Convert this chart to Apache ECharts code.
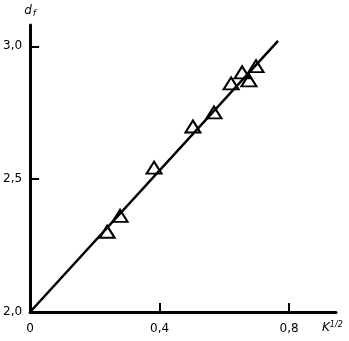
<!DOCTYPE html>
<html><head><meta charset="utf-8">
<script src="https://cdn.jsdelivr.net/npm/echarts@6/dist/echarts.min.js"></script>
<style>html,body{margin:0;padding:0;background:#fff}#c{width:349px;height:341px}</style>
</head><body><div id="c"></div>
<script>
const pointsX = [0.238, 0.278, 0.383, 0.503, 0.568, 0.621, 0.655, 0.676, 0.698];
const pointsY = [2.302, 2.362, 2.543, 2.698, 2.751, 2.860, 2.902, 2.872, 2.925];
const fitX = [0, 0.766];
const fitY = [2.0, 3.02];
const xTicks = [0, 0.4, 0.8];
const yTicks = [2.0, 2.5, 3.0];

const fmt = v => {
  if (Math.abs(v) < 1e-9) return '0';
  return v.toFixed(1).replace('.', ',');
};
const font = 'DejaVu Sans';
const chart = echarts.init(document.getElementById('c'));
chart.setOption({
  animation: false,
  backgroundColor: '#fff',
  grid: {left: 30, right: 13, top: 25, bottom: 29},
  xAxis: {
    type: 'value', min: 0, max: 0.945,
    axisLine: {lineStyle: {color: '#000', width: 3}},
    axisTick: {show: true, inside: true, length: 9, lineStyle: {color: '#000', width: 2}, customValues: [0.4, 0.8]},
    axisLabel: {customValues: xTicks, formatter: fmt, color: '#000', fontFamily: font, fontSize: 12, margin: 11},
    splitLine: {show: false},
    name: '{k|K}{s|1/2}', nameLocation: 'end', nameGap: -14,
    nameTextStyle: {
      padding: [32, 0, 0, 0],
      rich: {
        k: {fontFamily: font, fontStyle: 'italic', fontSize: 12, color: '#000'},
        s: {fontFamily: font, fontStyle: 'italic', fontSize: 8, color: '#000', verticalAlign: 'top', padding: [0, 0, 6, 0]}
      }
    }
  },
  yAxis: {
    type: 'value', min: 2.0, max: 3.08,
    axisLine: {lineStyle: {color: '#000', width: 3}},
    axisTick: {show: true, inside: true, length: 9, lineStyle: {color: '#000', width: 2}, customValues: [2.5, 3.0]},
    axisLabel: {customValues: yTicks, formatter: fmt, color: '#000', fontFamily: font, fontSize: 12, margin: 8},
    splitLine: {show: false},
    name: '{d|d}{s|f}', nameLocation: 'end', nameGap: 7,
    nameTextStyle: {
      align: 'center', padding: [0, 0, 0, 0],
      rich: {
        d: {fontFamily: font, fontStyle: 'italic', fontSize: 12, color: '#000'},
        s: {fontFamily: font, fontStyle: 'italic', fontSize: 9, color: '#000', verticalAlign: 'bottom', padding: [6, 0, 0, 1]}
      }
    }
  },
  series: [
    {
      type: 'line', data: fitX.map((x, i) => [x, fitY[i]]),
      symbol: 'none', lineStyle: {color: '#000', width: 2.5}, z: 2
    },
    {
      type: 'scatter', data: pointsX.map((x, i) => [x, pointsY[i]]),
      symbol: 'triangle', symbolSize: [15, 12],
      itemStyle: {color: 'rgba(0,0,0,0)', borderColor: '#000', borderWidth: 2, opacity: 1}, z: 3
    }
  ]
});
</script></body></html>
